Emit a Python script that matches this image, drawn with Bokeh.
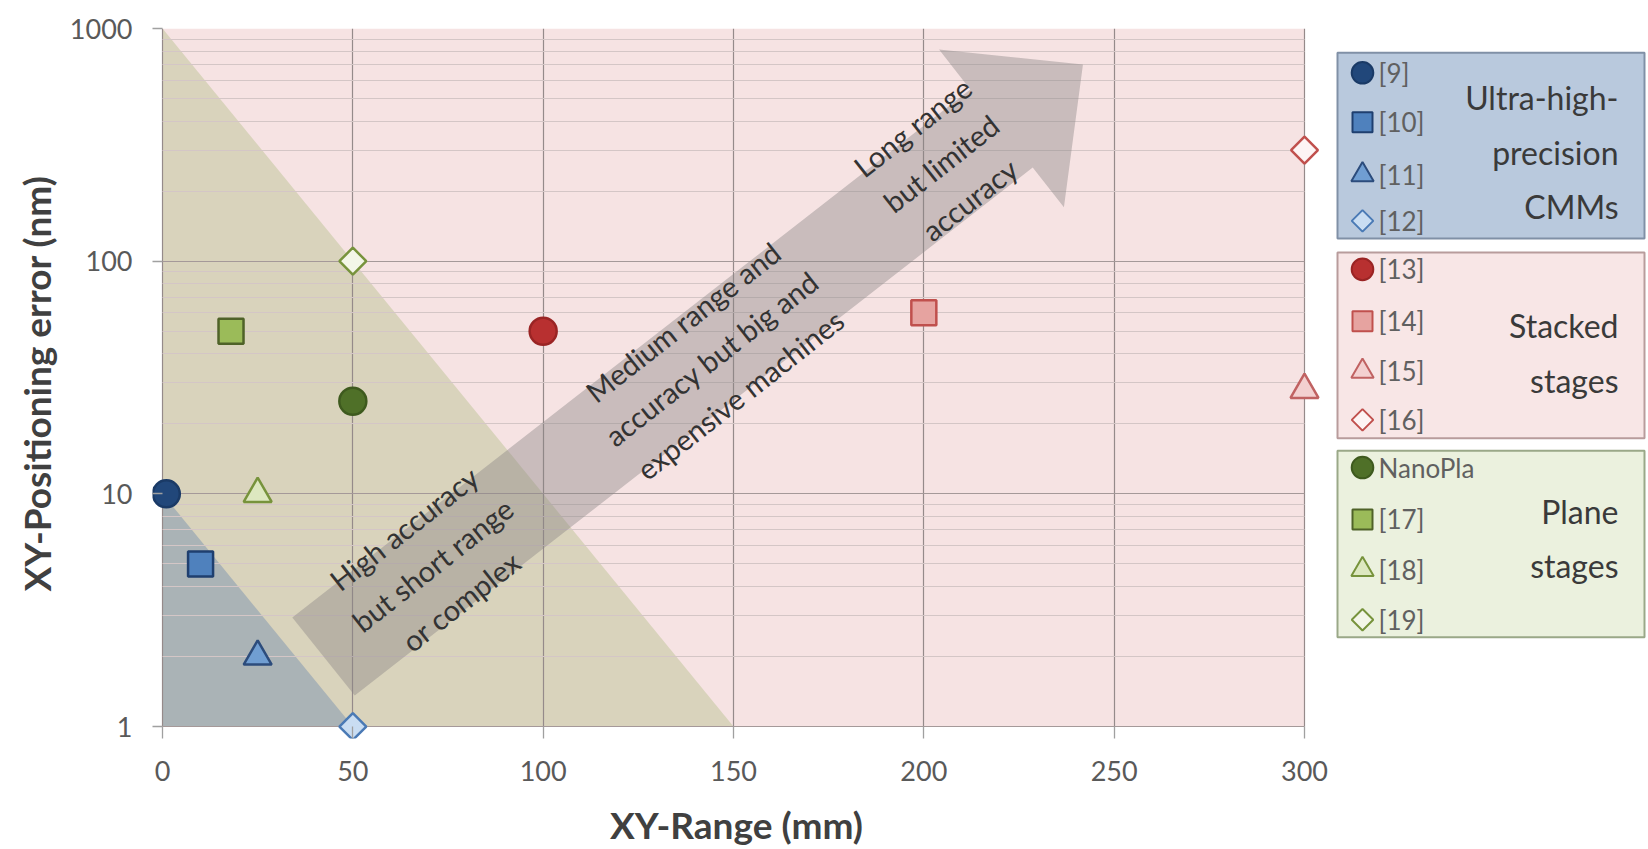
import math
from bokeh.plotting import figure
from bokeh.models import Range1d, FixedTicker, CustomJSTickFormatter
from bokeh.layouts import row
from bokeh.embed import file_html
from bokeh.resources import INLINE
from bokeh.core.properties import value

# ---------------- data ----------------
cmm_labels = ["[9]", "[10]", "[11]", "[12]"]
cmm_range = [1, 10, 25, 50]
cmm_error = [10, 5, 2, 1]

stacked_labels = ["[13]", "[14]", "[15]", "[16]"]
stacked_range = [100, 200, 300, 300]
stacked_error = [50, 60, 28, 300]

plane_labels = ["NanoPla", "[17]", "[18]", "[19]"]
plane_range = [50, 18, 25, 50]
plane_error = [25, 50, 10, 100]

group_titles = ["Ultra-high-\nprecision\nCMMs", "Stacked\nstages", "Plane\nstages"]

x_ticks = [0, 50, 100, 150, 200, 250, 300]
y_ticks = [1, 10, 100, 1000]

# shaded regions (data coordinates)
high_acc_x = [0, 0, 150]
high_acc_y = [1000, 1, 1]
cmm_region_x = [0, 0, 50]
cmm_region_y = [10, 1, 1]

# big arrow outline (data coordinates)
arrow_x = [34.1, 212.2, 204.0, 241.8, 236.8, 228.6, 50.5]
arrow_y = [2.94, 547, 812, 700, 170.6, 253, 1.36]

arrow_texts = ["High accuracy\nbut short range\nor complex",
               "Medium range and\naccuracy but big and\nexpensive machines",
               "Long range\nbut limited\naccuracy"]
arrow_text_x = [70.9, 144.2, 204.5]
arrow_text_y = [4.96, 38.3, 263.6]

# ---------------- styles ----------------
FONT = "Lato"
marker_kinds = ["circle", "square", "triangle", "square"]
marker_angles = [0, 0, 0, math.pi / 4]
marker_sizes = [27, 25, 28, 19]

blue_fill = ["#21477a", "#4f81bd", "#709ed2", "#c9ddf2"]
blue_line = ["#1a3a66", "#1f3f6f", "#2c4c7c", "#4a7ab5"]
red_fill = ["#b83030", "#e6a3a0", "#f3d0d0", "#fdf4f4"]
red_line = ["#9a2424", "#c0504d", "#c06262", "#c0504d"]
green_fill = ["#4f7028", "#9bbb59", "#dde8c0", "#f3f6e8"]
green_line = ["#3e5a1e", "#4f6228", "#77933c", "#77933c"]

W_MAIN, W_LEG, H = 1330, 318, 849
PX_PER_X = 1142 / 300.0      # frame pixels per x unit
PX_PER_DEC = 233.0           # frame pixels per decade
PAD_L, PAD_R, PAD_B = 10, 16, 12   # pixel padding so edge markers stay visible

p = figure(width=W_MAIN, height=H,
           x_range=Range1d(x_ticks[0] - PAD_L / PX_PER_X, x_ticks[-1] + PAD_R / PX_PER_X),
           y_range=Range1d(y_ticks[0] * 10 ** (-PAD_B / PX_PER_DEC), y_ticks[-1]),
           y_axis_type="log", toolbar_location=None, output_backend="svg",
           min_border_left=152, min_border_right=10, min_border_top=28, min_border_bottom=110)
p.background_fill_color = "white"
p.border_fill_color = "white"
p.outline_line_color = None

# plot area + regions below the grid
r0 = p.quad(left=x_ticks[0], right=x_ticks[-1], bottom=y_ticks[0], top=y_ticks[-1],
            fill_color="#f6e3e3", line_color=None)
r1 = p.patch(high_acc_x, high_acc_y, fill_color="#d9d3bc", line_color=None)
r2 = p.patch(cmm_region_x, cmm_region_y, fill_color="#aab3b6", line_color=None)
for r in (r0, r1, r2):
    r.level = "image"

# axes / grid
minor = [k * 10 ** e for e in range(0, 3) for k in range(2, 10)]
yt = FixedTicker(ticks=y_ticks, minor_ticks=minor)
xt = FixedTicker(ticks=x_ticks)
p.yaxis.ticker = yt
p.ygrid.ticker = yt
p.xaxis.ticker = xt
p.xgrid.ticker = xt
p.yaxis.formatter = CustomJSTickFormatter(code="return String(Math.round(tick));")

p.xaxis.bounds = (x_ticks[0], x_ticks[-1])
p.yaxis.bounds = (y_ticks[0], y_ticks[-1])
p.xgrid.bounds = (x_ticks[0], x_ticks[-1])
p.ygrid.bounds = (y_ticks[0], y_ticks[-1])
p.xgrid.cross_bounds = (y_ticks[0], y_ticks[-1])
p.ygrid.cross_bounds = (x_ticks[0], x_ticks[-1])

p.xgrid.grid_line_color = "#958a8a"
p.xgrid.grid_line_width = 1.2
p.ygrid.grid_line_color = "#a59999"
p.ygrid.grid_line_width = 1.2
p.ygrid.minor_grid_line_color = "#d4c6c6"
p.ygrid.minor_grid_line_width = 1.0

for ax in (p.xaxis, p.yaxis):
    ax.axis_line_color = None
    ax.major_tick_line_color = "#a0a0a0"
    ax.major_tick_line_width = 1.3
    ax.major_tick_out = 0
    ax.minor_tick_in = 0
    ax.minor_tick_out = 0
    ax.major_label_text_font = FONT
    ax.major_label_text_font_size = "27px"
    ax.major_label_text_color = "#595959"
    ax.axis_label_text_font = FONT
    ax.axis_label_text_font_style = "bold"
    ax.axis_label_text_font_size = "37px"
    ax.axis_label_text_color = "#404040"

p.xaxis.major_tick_in = PAD_B
p.xaxis.major_label_standoff = 22
p.xaxis.axis_label = "XY-Range (mm)"
p.xaxis.axis_label_standoff = 18
p.yaxis.major_tick_in = PAD_L
p.yaxis.major_label_standoff = 20
p.yaxis.axis_label = "XY-Positioning error (nm)"
p.yaxis.axis_label_standoff = 8

# arrow
p.patch(arrow_x, arrow_y, fill_color="#8a8686", fill_alpha=0.42, line_color=None)
ang = 0.667
p.text(arrow_text_x, arrow_text_y, text=arrow_texts, angle=ang,
       text_font=value(FONT), text_font_size="29px", text_color="#333333",
       text_align="center", text_baseline="middle", text_line_height=1.32)

# markers
groups = [
    (cmm_range, cmm_error, blue_fill, blue_line),
    (stacked_range, stacked_error, red_fill, red_line),
    (plane_range, plane_error, green_fill, green_line),
]
for xs, ys, fills, lines in groups:
    for i in range(len(xs)):
        p.scatter([xs[i]], [ys[i]], marker=marker_kinds[i], angle=marker_angles[i],
                  size=marker_sizes[i], fill_color=fills[i], line_color=lines[i], line_width=2.5)

# ---------------- legend panel ----------------
leg = figure(width=W_LEG, height=H, x_range=Range1d(0, W_LEG), y_range=Range1d(H, 0),
             toolbar_location=None, output_backend="svg",
             min_border_left=0, min_border_right=0, min_border_top=0, min_border_bottom=0)
leg.axis.visible = False
leg.grid.visible = False
leg.outline_line_color = None
leg.background_fill_color = "white"
leg.border_fill_color = "white"

box_top = [29, 268, 505]
box_bottom = [251, 490, 728]
box_fill = ["#b9c9dd", "#f8e6e6", "#ebf1de"]
box_line = ["#8090a6", "#b89c9c", "#9aa888"]
row_y = [[53, 112, 175, 230], [288, 350, 410, 468], [525, 587, 647, 707]]
title_y = [148, 388, 610]
label_sets = [cmm_labels, stacked_labels, plane_labels]
fill_sets = [blue_fill, red_fill, green_fill]
line_sets = [blue_line, red_line, green_line]

for g in range(3):
    leg.quad(left=7, right=314, top=box_top[g], bottom=box_bottom[g],
             fill_color=box_fill[g], line_color=box_line[g], line_width=2)
    for i in range(4):
        leg.scatter([32], [row_y[g][i]], marker=marker_kinds[i], angle=marker_angles[i],
                    size=marker_sizes[i] * 0.8, fill_color=fill_sets[g][i],
                    line_color=line_sets[g][i], line_width=2)
    leg.text([48] * 4, row_y[g], text=label_sets[g], text_font=value(FONT),
             text_font_size="26px", text_color="#606060", text_baseline="middle")
    leg.text([288], [title_y[g]], text=[group_titles[g]], text_font=value(FONT),
             text_font_size="32px", text_color="#3a3a3a", text_align="right",
             text_baseline="middle", text_line_height=1.4)

layout = row(p, leg)
open("out.html", "w").write(file_html(layout, INLINE))
